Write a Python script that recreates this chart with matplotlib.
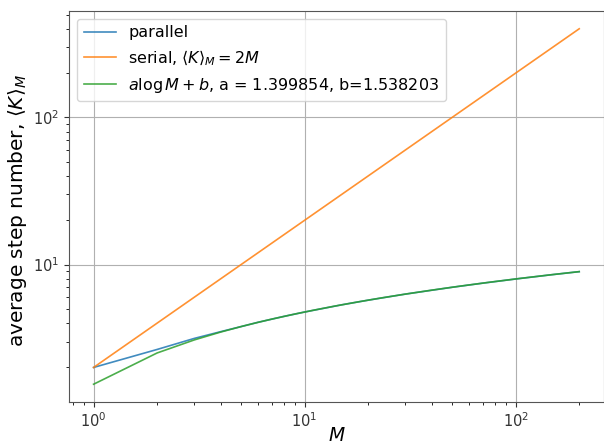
import numpy as np
import matplotlib
matplotlib.use("Agg")
import matplotlib.pyplot as plt

# data
a_fit = 1.399854
b_fit = 1.538203
M_grid = np.arange(1, 201)
M_par = [1, 2, 3, 4, 5, 6, 8, 10, 15, 20, 30, 50, 70, 100, 150, 200]
K_par = [2.0, 2.65, 3.15, 3.50, 3.79, 4.05, 4.45, 4.76, 5.33, 5.73, 6.30,
         7.01, 7.48, 7.98, 8.55, 8.95]

serial = 2 * M_grid
fit = a_fit * np.log(M_grid) + b_fit

fig = plt.figure(figsize=(6.04, 4.45), dpi=100)
ax = fig.add_axes([69.3 / 604, 1 - 402 / 445, (603.5 - 69.3) / 604, (402 - 11) / 445])

ax.plot(M_par, K_par, color='#1f77b4', lw=1.2, alpha=0.85, label='parallel')
ax.plot(M_grid, serial, color='#ff7f0e', lw=1.2, alpha=0.85,
        label=r'serial, $\langle K \rangle_M = 2M$')
ax.plot(M_grid, fit, color='#2ca02c', lw=1.2, alpha=0.85,
        label=r'$a \log M + b$, a = %f, b=%f' % (a_fit, b_fit))

ax.set_xscale('log')
ax.set_yscale('log')
ax.grid(True, which='major', color='#b0b0b0', lw=0.8)
ax.set_xlabel(r'$M$', fontsize=13.5)
ax.set_ylabel(r'average step number, $\langle K \rangle_M$', fontsize=14.5)
ax.xaxis.set_label_coords(0.5, -0.062)
ax.yaxis.set_label_coords(-0.075, 0.49)
ax.tick_params(labelsize=10.5, colors='#333333')
for s in ax.spines.values():
    s.set_color('#555555')
ax.legend(fontsize=11.5, loc='upper left')

fig.savefig('out.png', dpi=100)
